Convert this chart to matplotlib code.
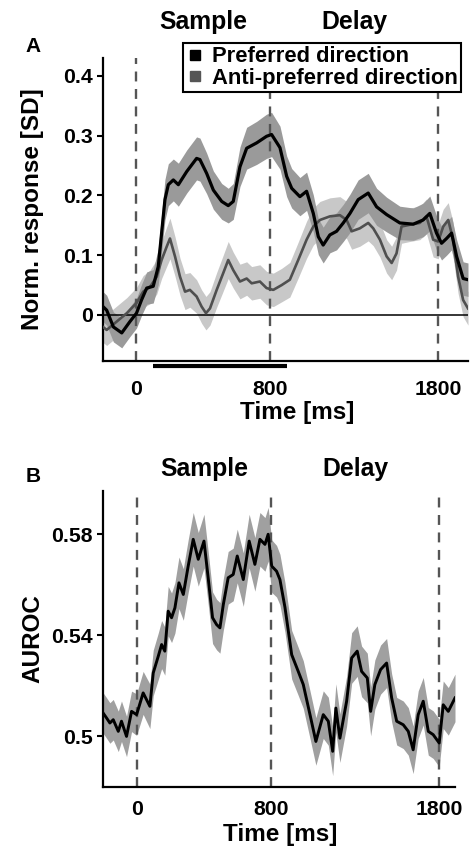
import numpy as np
import matplotlib
matplotlib.use("Agg")
import matplotlib.pyplot as plt
from matplotlib.lines import Line2D

plt.rcParams['font.family'] = ['Liberation Sans', 'DejaVu Sans']
plt.rcParams['font.weight'] = 'bold'

# ---------------- data: panel A ----------------
pref_t = [-200, -178, -138, -88, -39, 0, 30, 61, 100, 130, 150, 170, 190, 220, 250, 300,
          359, 379, 419, 459, 509, 548, 578, 618, 658, 718, 777, 807, 857, 897, 927, 976,
          1016, 1056, 1086, 1115, 1155, 1195, 1235, 1275, 1324, 1384, 1434, 1494, 1573,
          1653, 1712, 1752, 1792, 1822, 1852, 1882, 1912, 1951, 1980]
pref_v = [0.014, 0.008, -0.020, -0.030, -0.011, 0.003, 0.025, 0.045, 0.048, 0.081, 0.137,
          0.193, 0.218, 0.226, 0.218, 0.240, 0.262, 0.260, 0.237, 0.209, 0.190, 0.183,
          0.190, 0.248, 0.279, 0.288, 0.299, 0.302, 0.280, 0.232, 0.212, 0.198, 0.207,
          0.170, 0.131, 0.117, 0.134, 0.140, 0.154, 0.170, 0.193, 0.204, 0.181, 0.168,
          0.154, 0.152, 0.159, 0.170, 0.137, 0.120, 0.128, 0.137, 0.098, 0.061, 0.059]
pref_sem = [0.025, 0.025, 0.025, 0.025, 0.025, 0.025, 0.026, 0.027, 0.028, 0.030, 0.032,
            0.034, 0.035, 0.035, 0.036, 0.036, 0.036, 0.036, 0.034, 0.032, 0.030, 0.029,
            0.030, 0.033, 0.035, 0.036, 0.037, 0.037, 0.036, 0.034, 0.033, 0.032, 0.032,
            0.031, 0.030, 0.030, 0.030, 0.031, 0.031, 0.032, 0.033, 0.033, 0.031, 0.029,
            0.028, 0.027, 0.028, 0.029, 0.029, 0.028, 0.028, 0.028, 0.028, 0.028, 0.028]

anti_t = [-200, -178, -118, -58, 0, 40, 81, 121, 150, 180, 200, 230, 260, 290, 319, 359,
          389, 415, 439, 479, 518, 548, 578, 618, 658, 688, 737, 777, 817, 867, 916, 966,
          1016, 1056, 1096, 1155, 1215, 1255, 1285, 1334, 1384, 1414, 1454, 1494, 1524,
          1553, 1583, 1633, 1692, 1732, 1772, 1802, 1832, 1862, 1891, 1921, 1951, 1980]
anti_v = [-0.020, -0.025, -0.011, 0.003, 0.020, 0.039, 0.047, 0.064, 0.092, 0.114, 0.128,
          0.098, 0.064, 0.039, 0.042, 0.031, 0.014, 0.003, 0.011, 0.042, 0.070, 0.092,
          0.075, 0.056, 0.061, 0.053, 0.056, 0.045, 0.042, 0.050, 0.059, 0.092, 0.126,
          0.148, 0.159, 0.165, 0.167, 0.159, 0.140, 0.145, 0.154, 0.145, 0.126, 0.098,
          0.087, 0.103, 0.148, 0.151, 0.154, 0.165, 0.126, 0.123, 0.148, 0.159, 0.126,
          0.064, 0.025, 0.011]
anti_sem = [0.026, 0.026, 0.026, 0.026, 0.026, 0.027, 0.028, 0.029, 0.031, 0.033, 0.034,
            0.033, 0.031, 0.030, 0.029, 0.028, 0.028, 0.028, 0.028, 0.029, 0.030, 0.031,
            0.030, 0.029, 0.028, 0.028, 0.028, 0.028, 0.028, 0.028, 0.029, 0.030, 0.031,
            0.031, 0.031, 0.031, 0.031, 0.031, 0.030, 0.030, 0.030, 0.029, 0.029, 0.028,
            0.028, 0.028, 0.028, 0.028, 0.028, 0.029, 0.029, 0.029, 0.029, 0.029, 0.029,
            0.028, 0.028, 0.028]

# ---------------- data: panel B ----------------
auroc_t = [-199, -179, -159, -139, -109, -90, -60, -30, 0, 39, 79, 99, 129, 149, 168, 188,
           208, 228, 252, 278, 307, 337, 367, 401, 426, 452, 476, 496, 516, 545, 575, 599,
           635, 670, 704, 734, 764, 783, 804, 833, 853, 883, 923, 962, 992, 1032, 1067,
           1111, 1141, 1167, 1186, 1210, 1250, 1280, 1313, 1339, 1373, 1393, 1418, 1452,
           1488, 1518, 1548, 1587, 1617, 1646, 1676, 1706, 1736, 1765, 1801, 1825, 1855,
           1895]
auroc_v = [0.5092, 0.5073, 0.5053, 0.5066, 0.5020, 0.5060, 0.5000, 0.5099, 0.5086, 0.5172,
           0.5119, 0.5251, 0.5317, 0.5363, 0.5337, 0.5495, 0.5469, 0.5508, 0.5607, 0.5561,
           0.5673, 0.5779, 0.5700, 0.5772, 0.5627, 0.5469, 0.5442, 0.5429, 0.5521, 0.5627,
           0.5640, 0.5713, 0.5620, 0.5772, 0.5680, 0.5779, 0.5759, 0.5799, 0.5673, 0.5653,
           0.5620, 0.5510, 0.5323, 0.5257, 0.5205, 0.5086, 0.4980, 0.5086, 0.5060, 0.4941,
           0.5112, 0.4993, 0.5139, 0.5310, 0.5337, 0.5257, 0.5231, 0.5099, 0.5205, 0.5264,
           0.5290, 0.5152, 0.5060, 0.5046, 0.5020, 0.4947, 0.5086, 0.5139, 0.5020, 0.5007,
           0.4974, 0.5125, 0.5099, 0.5152]
auroc_sem = [0.0080, 0.0080, 0.0080, 0.0080, 0.0080, 0.0080, 0.0080, 0.0080, 0.0082, 0.0085,
             0.0088, 0.0090, 0.0092, 0.0095, 0.0095, 0.0098, 0.0098, 0.0100, 0.0102, 0.0102,
             0.0104, 0.0106, 0.0106, 0.0106, 0.0104, 0.0102, 0.0100, 0.0100, 0.0102, 0.0104,
             0.0104, 0.0106, 0.0106, 0.0106, 0.0106, 0.0106, 0.0106, 0.0106, 0.0104, 0.0102,
             0.0100, 0.0098, 0.0096, 0.0095, 0.0094, 0.0094, 0.0094, 0.0094, 0.0095, 0.0096,
             0.0096, 0.0096, 0.0098, 0.0100, 0.0100, 0.0100, 0.0098, 0.0097, 0.0097, 0.0097,
             0.0097, 0.0095, 0.0094, 0.0094, 0.0094, 0.0094, 0.0094, 0.0094, 0.0094, 0.0094,
             0.0094, 0.0094, 0.0094, 0.0094]

event_times = [0, 800, 1800]
epoch_labels = ["Sample", "Delay"]
epoch_centers = [400, 1300]
sample_bar = [100, 900]
legend_labels = ["Preferred direction", "Anti-preferred direction"]
xticks = [0, 800, 1800]
yticks_a = [0, 0.1, 0.2, 0.3, 0.4]
yticklabels_a = ["0", "0.1", "0.2", "0.3", "0.4"]
yticks_b = [0.5, 0.54, 0.58]
yticklabels_b = ["0.5", "0.54", "0.58"]

W, H = 470, 849
fig = plt.figure(figsize=(W / 100, H / 100), dpi=100)

def frac(l, t, r, b):
    return [l / W, 1 - b / H, (r - l) / W, (b - t) / H]

axA = fig.add_axes(frac(103, 58, 468, 361))
axB = fig.add_axes(frac(103, 491, 455, 787))

TICK_FS = 15.3
LABEL_FS = 17.5

def style(ax, xpad):
    for s in ['top', 'right']:
        ax.spines[s].set_visible(False)
    for s in ['left', 'bottom']:
        ax.spines[s].set_linewidth(1.6)
    ax.tick_params(axis='y', length=4, width=1.5, pad=3.5, labelsize=TICK_FS)
    ax.tick_params(axis='x', length=0, pad=xpad, labelsize=TICK_FS)
    ax.set_xticks(xticks)
    ax.set_xticklabels([str(x) for x in xticks], fontweight='bold')
    for t in event_times:
        ln = ax.axvline(t, color='#555555', lw=1.7, zorder=2)
        ln.set_dashes([4.2, 3.2])

# ----- Panel A -----
axA.fill_between(anti_t, np.array(anti_v) - np.array(anti_sem), np.array(anti_v) + np.array(anti_sem),
                 color='#c8c8c8', lw=0, zorder=1)
axA.fill_between(pref_t, np.array(pref_v) - np.array(pref_sem), np.array(pref_v) + np.array(pref_sem),
                 color='#9a9a9a', lw=0, zorder=1.2)
axA.axhline(0, color='black', lw=1.1, zorder=2.5)
axA.plot(anti_t, anti_v, color='#4f4f4f', lw=1.9, zorder=3)
axA.plot(pref_t, pref_v, color='black', lw=2.3, zorder=4)
axA.set_xlim(-200, 1980)
axA.set_ylim(-0.077, 0.43)
style(axA, 13.5)
axA.set_yticks(yticks_a)
axA.set_yticklabels(yticklabels_a, fontweight='bold')
axA.plot(sample_bar, [-0.016, -0.016], color='black', lw=3, solid_capstyle='butt',
         transform=axA.get_xaxis_transform(), clip_on=False)

# ----- Panel B -----
axB.fill_between(auroc_t, np.array(auroc_v) - np.array(auroc_sem), np.array(auroc_v) + np.array(auroc_sem),
                 color='#a0a0a0', lw=0, zorder=1)
axB.plot(auroc_t, auroc_v, color='black', lw=2.1, zorder=4)
axB.set_xlim(-200, 1895)
axB.set_ylim(0.48, 0.597)
style(axB, 9.5)
axB.set_yticks(yticks_b)
axB.set_yticklabels(yticklabels_b, fontweight='bold')

# epoch titles
for ax, yf in [(axA, 1.119), (axB, 1.074)]:
    for lab, c in zip(epoch_labels, epoch_centers):
        ax.text(c, yf, lab, transform=ax.get_xaxis_transform(), ha='center', va='center',
                fontsize=17.8, fontweight='bold')

def ftext(x, y, s, **kw):
    fig.text(x / W, 1 - y / H, s, **kw)

ftext(33, 47, "A", ha='center', va='center', fontsize=15, fontweight='bold')
ftext(33, 476, "B", ha='center', va='center', fontsize=15, fontweight='bold')
ftext(33, 209, "Norm. response [SD]", rotation=90, ha='center', va='center',
      fontsize=LABEL_FS, fontweight='bold')
ftext(33, 639, "AUROC", rotation=90, ha='center', va='center',
      fontsize=LABEL_FS, fontweight='bold')
ftext(297, 413, "Time [ms]", ha='center', va='center', fontsize=LABEL_FS, fontweight='bold')
ftext(280, 835, "Time [ms]", ha='center', va='center', fontsize=LABEL_FS, fontweight='bold')

handles = [Line2D([], [], marker='s', ls='none', color='black', markersize=7.5),
           Line2D([], [], marker='s', ls='none', color='#555555', markersize=7.5)]
leg = fig.legend(handles, legend_labels, loc='upper right',
                 bbox_to_anchor=(461 / W, 1 - 43 / H), bbox_transform=fig.transFigure,
                 frameon=True, fancybox=False, edgecolor='black', framealpha=1,
                 borderpad=0.15, handlelength=0.75, handletextpad=0.4, labelspacing=0.02,
                 borderaxespad=0, prop=dict(weight='bold', size=15.8))
leg.get_frame().set_linewidth(1.5)

fig.savefig("out.png", dpi=100)
